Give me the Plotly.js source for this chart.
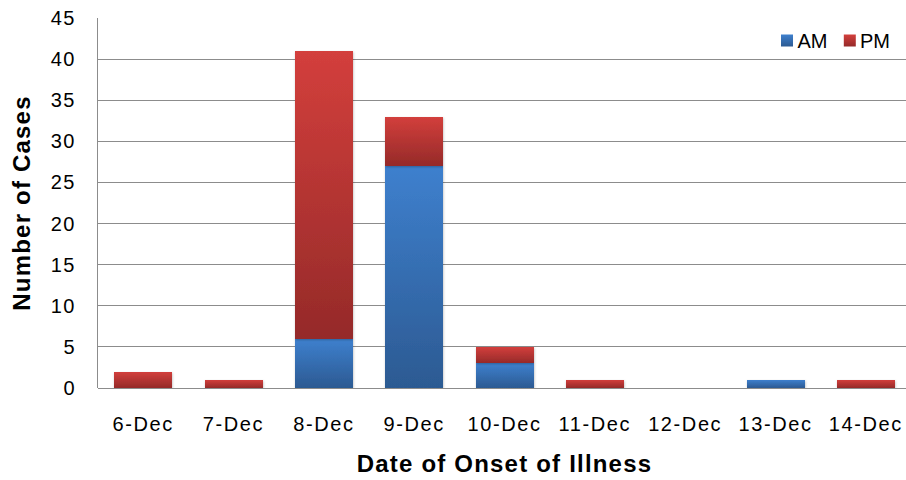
<!DOCTYPE html>
<html>
<head>
<meta charset="utf-8">
<script src="https://cdn.plot.ly/plotly-3.0.1.min.js"></script>
<style>
  html, body { margin: 0; padding: 0; background: #fff; overflow: hidden; }
  #chart { width: 911px; height: 480px; }
</style>
</head>
<body>
<div id="chart"></div>
<script>
// Onset dates and case counts, split by time of day
const dates = ['6-Dec', '7-Dec', '8-Dec', '9-Dec', '10-Dec', '11-Dec', '12-Dec', '13-Dec', '14-Dec'];
const amCases = [0, 0, 6, 27, 3, 0, 0, 1, 0];
const pmCases = [2, 1, 35, 6, 2, 1, 0, 0, 1];
const yTicks = [0, 5, 10, 15, 20, 25, 30, 35, 40, 45];

const font = 'Liberation Sans, Arial, sans-serif';

const traces = [
  { type: 'bar', name: 'AM', x: dates, y: amCases,
    marker: { color: '#3572BE', line: { width: 0 } } },
  { type: 'bar', name: 'PM', x: dates, y: pmCases,
    marker: { color: '#B83533', line: { width: 0 } } }
];

const layout = {
  width: 911, height: 480,
  barmode: 'stack',
  bargap: 0.358,
  margin: { l: 98, r: 0, t: 18, b: 92 },
  paper_bgcolor: '#fff', plot_bgcolor: '#fff',
  font: { family: font, color: '#000', size: 16 },
  showlegend: true,
  legend: {
    orientation: 'h', x: 0.99, xanchor: 'right', y: 1.0, yanchor: 'top',
    font: { family: font, size: 20, color: '#000' },
    bgcolor: 'rgba(255,255,255,0)', itemwidth: 30, traceorder: 'normal'
  },
  xaxis: {
    type: 'category',
    showgrid: false, showline: false, zeroline: false,
    ticks: '', ticklabelstandoff: 22,
    tickfont: { family: font, size: 20, color: '#000' },
    title: { text: 'Date of Onset of Illness', standoff: 21,
             font: { family: font, size: 24, color: '#000', weight: 'bold' } }
  },
  yaxis: {
    range: [0, 45], tickvals: yTicks, ticktext: yTicks.map(String),
    showgrid: true, gridcolor: '#8C8C8C', gridwidth: 1,
    showline: true, linecolor: '#8C8C8C', linewidth: 1,
    zeroline: true, zerolinecolor: '#8C8C8C', zerolinewidth: 1,
    ticks: '', ticklabelstandoff: 17,
    tickfont: { family: font, size: 20, color: '#000' },
    title: { text: 'Number of Cases', standoff: 16,
             font: { family: font, size: 24, color: '#000', weight: 'bold' } }
  }
};

function styleText(gd) {
  gd.querySelectorAll('.xtick text').forEach(t => { t.style.letterSpacing = '1.6px'; });
  gd.querySelectorAll('.ytick text').forEach(t => { t.style.letterSpacing = '1.5px'; });
  gd.querySelectorAll('.g-xtitle text, .g-ytitle text').forEach(t => { t.style.letterSpacing = '1.2px'; });
}

function placeLegend(gd) {
  // tighten legend swatches against their labels, top-right of the plot
  const legend = gd.querySelector('.legend');
  if (!legend) return;
  const sb = legend.querySelector('.scrollbox');
  if (sb) sb.removeAttribute('clip-path');
  legend.removeAttribute('clip-path');
  const svgRect = gd.querySelector('svg.main-svg').getBoundingClientRect();
  const targets = [
    { cx: 787, cy: 40.5, tx: 797.5 },
    { cx: 849.8, cy: 40.5, tx: 860 }
  ];
  legend.querySelectorAll('.traces').forEach((g, i) => {
    const tgt = targets[i];
    if (!tgt) return;
    const sym = g.querySelector('.legendpoints path');
    const r = sym.getBoundingClientRect();
    const dx = tgt.cx - (r.left - svgRect.left + r.width / 2);
    const dy = tgt.cy - (r.top - svgRect.top + r.height / 2);
    g.setAttribute('transform', (g.getAttribute('transform') || '') + ` translate(${dx},${dy})`);
    const txt = g.querySelector('text.legendtext');
    const tr = txt.getBoundingClientRect();
    const ddx = tgt.tx - (tr.left - svgRect.left);
    txt.setAttribute('x', parseFloat(txt.getAttribute('x') || 0) + ddx);
  });
}

function shadeBars(gd) {
  // vertical gradient fills on each bar segment (light top, darker bottom)
  const svg = gd.querySelector('svg.main-svg');
  const ns = 'http://www.w3.org/2000/svg';
  let defs = svg.querySelector('defs');
  if (!defs) { defs = document.createElementNS(ns, 'defs'); svg.insertBefore(defs, svg.firstChild); }
  const grads = { AM: ['#3E80CE', '#2C5A92'], PM: ['#D33F3C', '#952A29'] };
  Object.keys(grads).forEach(k => {
    const g = document.createElementNS(ns, 'linearGradient');
    g.setAttribute('id', 'grad' + k);
    g.setAttribute('x1', '0'); g.setAttribute('y1', '0');
    g.setAttribute('x2', '0'); g.setAttribute('y2', '1');
    [[0, grads[k][0]], [1, grads[k][1]]].forEach(([o, c]) => {
      const s = document.createElementNS(ns, 'stop');
      s.setAttribute('offset', o); s.setAttribute('stop-color', c);
      g.appendChild(s);
    });
    defs.appendChild(g);
  });
  const f = document.createElementNS(ns, 'filter');
  f.setAttribute('id', 'barShadow');
  f.setAttribute('x', '-10%'); f.setAttribute('y', '-10%');
  f.setAttribute('width', '120%'); f.setAttribute('height', '130%');
  const ds = document.createElementNS(ns, 'feDropShadow');
  ds.setAttribute('dx', '0.5'); ds.setAttribute('dy', '1');
  ds.setAttribute('stdDeviation', '1.2'); ds.setAttribute('flood-color', '#000');
  ds.setAttribute('flood-opacity', '0.25');
  f.appendChild(ds); defs.appendChild(f);

  gd.querySelectorAll('.barlayer .trace.bars').forEach((tr, i) => {
    const key = i === 0 ? 'AM' : 'PM';
    tr.querySelectorAll('.point path').forEach(p => {
      p.style.fill = 'url(#grad' + key + ')';
      p.style.filter = 'url(#barShadow)';
    });
  });
  gd.querySelectorAll('.legend .traces').forEach((g, i) => {
    const key = i === 0 ? 'AM' : 'PM';
    g.querySelectorAll('.legendpoints path').forEach(p => { p.style.fill = 'url(#grad' + key + ')'; });
  });
}

Plotly.newPlot('chart', traces, layout, { displayModeBar: false, staticPlot: true }).then(gd => {
  styleText(gd);
  shadeBars(gd);
  placeLegend(gd);
});
</script>
</body>
</html>
